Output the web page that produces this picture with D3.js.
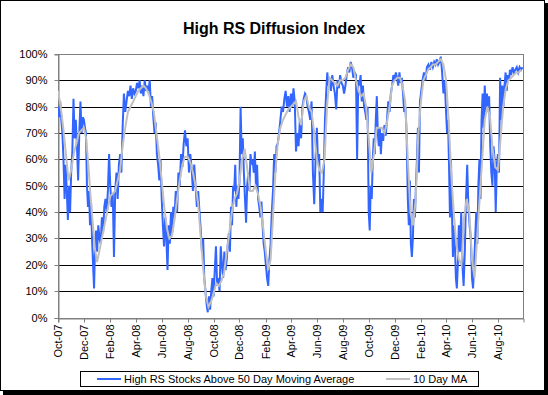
<!DOCTYPE html>
<html>
<head>
<meta charset="utf-8">
<script src="https://cdn.jsdelivr.net/npm/d3@7"></script>
<style>
body { margin: 0; background: #fff; }
text { font-family: Arial, "Liberation Sans", sans-serif; }
</style>
</head>
<body>
<script>
//data: one array of readings per month, Oct-07 .. Sep-10
var firstMonth = new Date(2007, 9, 1);
var lastDay = new Date(2010, 8, 29);

var highRS = [
    [80, 76, 82, 75, 70, 60, 45, 58, 48, 37, 50, 40],          // Oct-07
    [55, 63, 83, 68, 75, 65, 52, 70, 82, 70, 76],              // Nov-07
    [75, 72, 70, 50, 42, 48, 35, 44, 30, 20, 11, 28, 33],      // Dec-07
    [25, 35, 30, 28, 38, 32, 42, 45, 40, 48, 62],              // Jan-08
    [50, 42, 47, 23, 48, 55, 45, 58, 62, 55],                  // Feb-08
    [72, 85, 78, 82, 86, 84, 88, 83, 87, 85],                  // Mar-08
    [86, 89, 87, 90, 85, 88, 84, 90, 86, 88],                  // Apr-08
    [86, 90, 80, 84, 76, 70, 74, 62, 58, 52, 60],              // May-08
    [45, 35, 27, 38, 30, 18, 35, 28, 40, 32, 42],              // Jun-08
    [38, 48, 40, 55, 50, 62, 57, 66, 71, 65],                  // Jul-08
    [68, 55, 62, 57, 48, 58, 50, 42, 48, 40],                  // Aug-08
    [33, 25, 30, 15, 10, 5, 2, 8, 3, 10, 15],                  // Sep-08
    [8, 18, 27, 12, 15, 10, 27, 20, 15, 25, 18],               // Oct-08
    [22, 28, 32, 25, 42, 35, 50, 48, 58, 42, 50, 45],          // Nov-08
    [52, 80, 62, 68, 55, 45, 36, 50, 55, 48, 62, 58],          // Dec-08
    [60, 55, 63, 50, 58, 45, 42, 38, 44, 35, 28, 25],          // Jan-09
    [20, 15, 12, 22, 28, 40, 48, 62, 55, 65],                  // Feb-09
    [66, 70, 75, 80, 78, 83, 86, 80, 84, 78],                  // Mar-09
    [85, 80, 87, 82, 63, 70, 65, 75, 68, 80],                  // Apr-09
    [83, 85, 84, 80, 78, 75, 82, 55, 43, 60],                  // May-09
    [72, 58, 62, 40, 45, 40, 55, 75, 85, 93, 88],              // Jun-09
    [90, 86, 92, 88, 85, 79, 90, 87, 92, 89],                  // Jul-09
    [88, 85, 88, 92, 95, 93, 97, 95, 91, 93],                  // Aug-09
    [92, 60, 90, 88, 92, 82, 88, 80, 78, 75, 80],              // Sep-09
    [40, 33, 50, 45, 60, 68, 62, 75, 84, 70, 65, 72, 62],      // Oct-09
    [70, 67, 73, 69, 75, 82, 78, 85, 88, 92],                  // Nov-09
    [90, 93, 91, 88, 93, 89, 91, 85, 78, 80, 70],              // Dec-09
    [45, 35, 52, 28, 23, 30, 45, 38, 50, 60, 72, 55, 82],      // Jan-10
    [85, 90, 93, 90, 95, 96, 94, 97],                          // Feb-10
    [95, 97, 96, 98, 96, 97, 99, 93, 85, 90],                  // Mar-10
    [78, 70, 75, 58, 38, 60, 40, 23, 35, 28, 15, 11, 20],      // Apr-10
    [35, 25, 40, 20, 12, 25, 45, 58, 42, 35, 30],              // May-10
    [15, 11, 20, 30, 40, 28, 50, 60, 45, 75, 85, 72],          // Jun-10
    [88, 78, 85, 80, 84, 65, 55, 50, 65, 60, 40, 58],          // Jul-10
    [62, 55, 91, 75, 88, 80, 88, 93, 86, 92, 90, 94],          // Aug-10
    [92, 95, 93, 94, 95, 93, 95, 94, 95]                       // Sep-10
];

var ma10 = [
    [86, 80, 72, 62, 52], [56, 62, 66, 70, 71], [72, 68, 58, 46, 36, 26],
    [21, 26, 31, 36, 41], [46, 47, 48, 52, 56], [65, 72, 78, 80, 82],
    [84, 86, 87, 88, 87], [85, 82, 78, 70, 62], [52, 42, 34, 30, 31],
    [37, 45, 52, 58, 61], [61, 59, 55, 50, 43], [30, 18, 8, 4, 6],
    [9, 13, 12, 14, 17], [25, 32, 40, 45, 47], [52, 60, 64, 56, 48],
    [48, 50, 47, 42, 34], [25, 18, 22, 38, 55], [66, 72, 75, 77, 79],
    [80, 81, 82, 76, 73], [82, 84, 80, 78, 70], [60, 56, 55, 60, 80],
    [91, 90, 89, 88, 90], [90, 91, 94, 96, 95], [90, 86, 84, 85, 80],
    [68, 55, 62, 72, 72], [72, 70, 74, 80, 88], [90, 91, 91, 88, 82],
    [60, 40, 35, 45, 70], [82, 90, 92, 94, 95], [96, 96, 97, 98, 96],
    [90, 75, 55, 40, 28], [22, 20, 38, 45, 40], [22, 15, 30, 45, 60],
    [75, 80, 76, 64, 57], [56, 68, 80, 87, 90], [91, 92, 93, 93, 94]
];

var seriesNames = ["High RS Stocks Above 50 Day Moving Average", "10 Day MA"];
var seriesColors = ["#3366ff", "#c0c0c0"];
var yTicks = [0, .1, .2, .3, .4, .5, .6, .7, .8, .9, 1];
var xTicks = d3.timeMonth.range(firstMonth, lastDay, 2); // Oct-07, Dec-07, ... Aug-10

var m = [54, 25, 77, 58], //top right bottom left
    w = 465,
    h = 263.5;

function toPoints(months) {
    var pts = [];
    months.forEach(function (vals, i) {
        var ms = d3.timeMonth.offset(firstMonth, i),
            me = d3.timeMonth.offset(firstMonth, i + 1);
        vals.forEach(function (v, j) {
            pts.push({ date: new Date(+ms + (me - ms) * j / vals.length), value: v / 100 });
        });
    });
    return pts;
}

var x = d3.scaleTime().domain([firstMonth, lastDay]).range([0, w]);
var y = d3.scaleLinear().domain([0, 1]).range([h, 0]);

var svg = d3.select("body").append("svg")
    .attr("width", 548)
    .attr("height", 395);

// chart frame + shadow
svg.append("rect").attr("x", 3).attr("y", 3).attr("width", 545).attr("height", 392).attr("fill", "#000");
svg.append("rect").attr("x", 0.5).attr("y", 0.5).attr("width", 544).attr("height", 390)
    .attr("fill", "#fff").attr("stroke", "#000");

svg.append("text")
    .attr("x", 274).attr("y", 34)
    .attr("text-anchor", "middle")
    .style("font-size", "16px").style("font-weight", "bold")
    .text("High RS Diffusion Index");

svg.append("defs").append("clipPath").attr("id", "clip")
    .append("rect").attr("width", w).attr("height", h);

var main = svg.append("g")
    .attr("transform", "translate(" + m[3] + "," + m[0] + ")");

//gridlines
main.append("g").selectAll("line")
    .data(yTicks.slice(1, -1))
    .enter().append("line")
    .attr("x1", 0).attr("x2", w)
    .attr("y1", function (d) { return Math.round(y(d)) + 0.5; })
    .attr("y2", function (d) { return Math.round(y(d)) + 0.5; })
    .attr("stroke", "#000");

main.append("rect")
    .attr("x", 0.5).attr("y", 0.5)
    .attr("width", w).attr("height", Math.round(h))
    .attr("fill", "none").attr("stroke", "#808080");

//axes
var yAxis = main.append("g")
    .attr("transform", "translate(0.5,0.5)")
    .call(d3.axisLeft(y).tickValues(yTicks).tickFormat(d3.format(".0%")).tickSizeOuter(0).tickSize(4).tickPadding(7));
yAxis.select(".domain").attr("stroke", "#808080");
yAxis.selectAll(".tick line").attr("stroke", "#808080");
yAxis.selectAll(".tick").attr("transform", function (d) { return "translate(0," + Math.round(y(d)) + ")"; });
yAxis.selectAll("text").style("font-size", "11px").attr("fill", "#000").attr("font-family", null);

var xAxis = main.append("g")
    .attr("transform", "translate(0.5," + (Math.round(h) + 0.5) + ")")
    .call(d3.axisBottom(x).tickValues(xTicks).tickFormat(d3.timeFormat("%b-%y")).tickSizeOuter(0).tickSize(4));
xAxis.select(".domain").attr("stroke", "#808080");
xAxis.selectAll(".tick line").attr("stroke", "#808080");
xAxis.selectAll(".tick").attr("transform", function (d) { return "translate(" + Math.round(x(d)) + ",0)"; });
xAxis.selectAll("text")
    .style("font-size", "11px").attr("fill", "#000").attr("font-family", null)
    .attr("text-anchor", "end")
    .attr("transform", "rotate(-90)")
    .attr("x", -6).attr("y", 0).attr("dy", ".35em");

//lines
var line = d3.line()
    .x(function (d) { return x(d.date); })
    .y(function (d) { return y(d.value); });

var plot = main.append("g").attr("clip-path", "url(#clip)");
[highRS, ma10].forEach(function (s, i) {
    plot.append("path")
        .datum(toPoints(s))
        .attr("fill", "none")
        .attr("stroke", seriesColors[i])
        .attr("stroke-width", 2)
        .attr("d", line);
});

//legend
var legend = svg.append("g");
legend.append("rect")
    .attr("x", 80.5).attr("y", 371.5).attr("width", 398).attr("height", 15)
    .attr("fill", "#fff").attr("stroke", "#000");
var legendX = [97, 386];
seriesNames.forEach(function (name, i) {
    legend.append("line")
        .attr("x1", legendX[i]).attr("x2", legendX[i] + 24)
        .attr("y1", 379).attr("y2", 379)
        .attr("stroke", seriesColors[i]).attr("stroke-width", 2);
    legend.append("text")
        .attr("x", legendX[i] + 27).attr("y", 383)
        .style("font-size", "11px")
        .text(name);
});
</script>
</body>
</html>
